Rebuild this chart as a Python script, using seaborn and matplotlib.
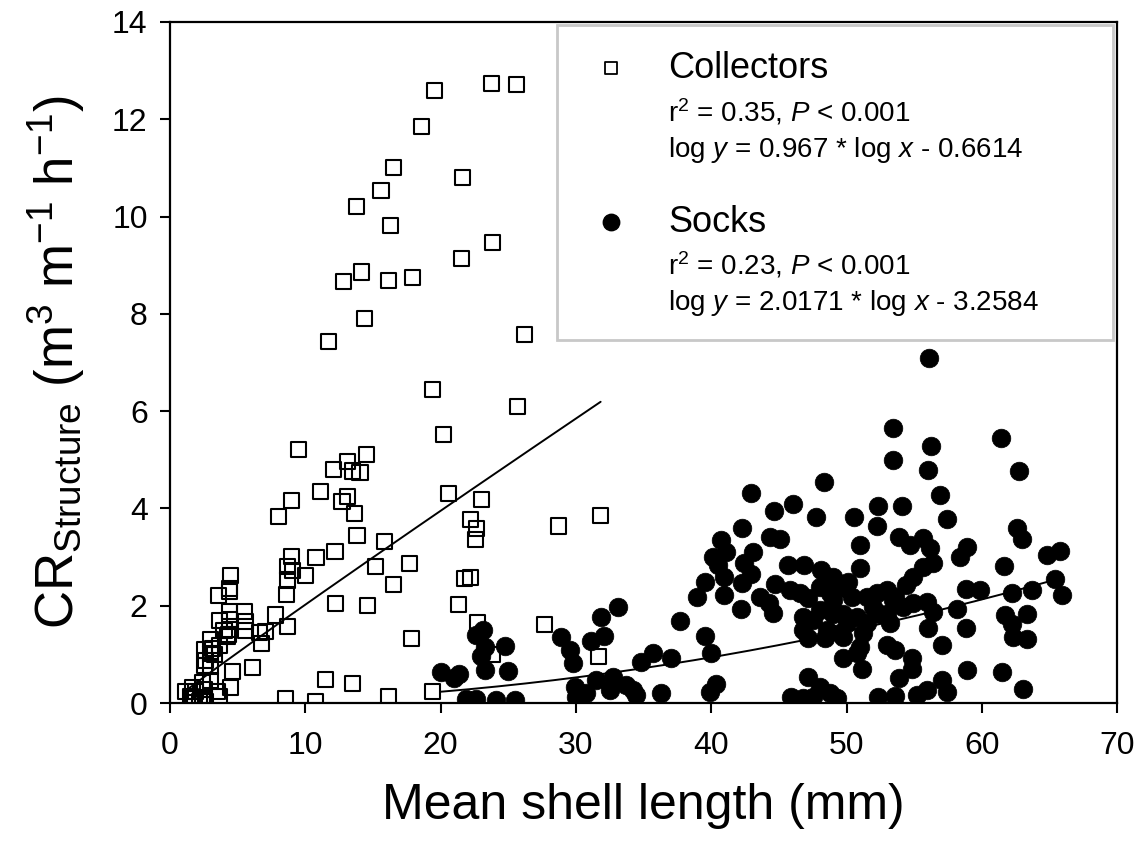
"""Clearance rate vs mean shell length for collectors and socks."""

import numpy as np
import pandas as pd
import matplotlib
matplotlib.use("Agg")
import matplotlib.pyplot as plt
from matplotlib.patches import Rectangle
import seaborn as sns

# Collectors (open squares)
collectors_x = [
    19.55, 23.74, 25.59, 18.57, 16.54, 21.6, 15.6, 13.8, 16.27, 23.82,
    21.52, 14.13, 12.82, 16.17, 17.9, 14.37, 11.73, 26.2, 19.42, 25.71,
    9.51, 12.1, 13.14, 13.5, 14.05, 11.12, 8.99, 8.03, 12.72, 13.14,
    13.63, 13.83, 12.2, 10.8, 9.02, 8.7, 9.07, 8.7, 8.65, 10.0,
    12.23, 4.51, 4.44, 3.57, 4.39, 5.5, 3.65, 4.44, 5.57, 4.39,
    4.33, 5.57, 6.6, 7.1, 7.79, 6.8, 8.7, 3.03, 3.65, 2.54,
    3.28, 2.54, 3.03, 4.63, 6.11, 2.41, 4.51, 1.18, 1.67, 1.67,
    2.41, 3.52, 3.65, 8.53, 10.75, 11.49, 13.5,
    4.39, 4.0, 4.26, 3.15, 3.03, 2.66, 1.92, 1.55, 2.54, 2.41,
    2.66, 2.17, 1.8, 3.03,
    20.24, 14.5, 15.85, 15.18, 17.7, 16.52, 14.62, 17.83, 16.17, 19.42,
    20.58, 23.0, 22.21, 22.63, 22.58, 21.77, 22.21, 21.35, 22.7, 23.82,
    28.74, 31.83, 27.68, 31.7,
]
collectors_y = [
    12.59, 12.74, 12.72, 11.85, 11.01, 10.81, 10.53, 10.2, 9.81, 9.46,
    9.13, 8.86, 8.66, 8.68, 8.75, 7.9, 7.43, 7.57, 6.45, 6.09,
    5.21, 4.80, 4.97, 4.77, 4.73, 4.34, 4.16, 3.84, 4.14, 4.24,
    3.9, 3.45, 3.11, 3.0, 3.01, 2.80, 2.73, 2.53, 2.24, 2.63,
    2.04, 2.63, 2.36, 2.21, 1.88, 1.89, 1.69, 1.72, 1.67, 1.51,
    1.40, 1.50, 1.45, 1.47, 1.81, 1.23, 1.57, 1.30, 1.19, 1.09,
    0.99, 0.78, 0.75, 0.64, 0.73, 0.42, 0.32, 0.23, 0.32, 0.10,
    0.06, 0.23, 0.13, 0.10, 0.04, 0.49, 0.40,
    2.29, 1.50, 1.36, 1.12, 1.02, 0.88, 0.23, 0.13, 0.27, 0.10,
    0.03, 0.03, 0.10, 0.47,
    5.52, 5.1, 3.32, 2.80, 2.87, 2.43, 2.01, 1.33, 0.14, 0.23,
    4.31, 4.19, 3.78, 3.59, 3.37, 2.56, 2.58, 2.03, 1.65, 0.99,
    3.64, 3.85, 1.62, 0.95,
]

# Socks (filled circles)
socks_x = [
    23.12, 22.63, 23.25, 23.0, 23.32, 24.73, 24.97, 20.04, 21.4, 21.03,
    21.89, 22.63, 24.11, 25.47, 28.92, 29.53, 29.78, 31.14, 32.07, 31.88,
    33.11, 29.9, 30.03, 30.77, 31.51, 32.74, 33.73, 34.22, 34.84,
    53.45, 53.45, 48.32, 42.97, 46.01, 44.62, 47.78, 52.34, 50.54, 52.22,
    42.31, 44.33, 45.07, 40.75, 41.12, 43.09, 40.13, 40.5, 42.43, 42.97,
    50.98, 50.98, 45.68, 46.84, 48.15, 49.01, 50.12, 40.92, 39.52, 42.31,
    44.75, 38.98, 40.92, 43.59, 44.28, 44.57, 42.23, 45.81, 46.55, 47.16,
    48.03, 48.76, 49.01, 49.87, 50.37, 51.48, 52.22, 52.96, 53.57, 51.97,
    52.96, 46.79, 47.53, 46.79, 48.03, 49.01, 49.75, 48.52, 50.0, 49.5,
    47.16, 48.39, 49.75, 50.74, 51.23, 51.48, 52.46, 53.2, 50.98, 50.74,
    49.75, 51.11, 52.96, 53.57, 47.16, 48.03, 48.76, 45.93, 46.79, 47.53,
    49.26, 52.34, 53.57, 53.89, 37.67, 39.52, 39.96, 35.7, 37.06, 40.38,
    39.89, 36.32, 34.47, 32.5,
    56.11, 56.21, 56.04, 61.39, 62.77, 56.9, 57.4, 54.1, 53.9, 54.68,
    55.67, 56.16, 56.41, 55.67, 54.93, 54.43, 62.57, 62.94, 58.92, 58.38,
    64.79, 65.78, 61.66, 65.41, 65.9, 58.82, 59.86, 62.2, 63.68, 58.14,
    61.71, 62.2, 62.32, 63.31, 63.31, 58.82, 53.45, 54.19, 54.93, 55.92,
    56.41, 56.04, 57.03, 54.81, 54.81, 58.88, 61.46, 63.06, 57.03, 57.4,
    55.92, 55.18,
]
socks_y = [
    1.51, 1.40, 1.16, 0.97, 0.68, 1.17, 0.66, 0.64, 0.60, 0.51,
    0.08, 0.08, 0.06, 0.06, 1.35, 1.10, 0.82, 1.28, 1.38, 1.77,
    1.97, 0.34, 0.13, 0.20, 0.47, 0.54, 0.37, 0.27, 0.85,
    5.65, 5.0, 4.55, 4.32, 4.09, 3.95, 3.83, 4.05, 3.82, 3.64,
    3.59, 3.42, 3.38, 3.35, 3.11, 3.11, 3.01, 2.84, 2.87, 2.66,
    3.25, 2.77, 2.84, 2.84, 2.73, 2.60, 2.49, 2.60, 2.49, 2.46,
    2.45, 2.19, 2.22, 2.19, 2.06, 1.86, 1.93, 2.32, 2.26, 2.15,
    2.39, 2.26, 2.12, 2.36, 2.19, 2.19, 2.26, 2.32, 2.19, 1.98,
    1.84, 1.77, 1.71, 1.50, 1.91, 1.84, 1.84, 1.50, 1.64, 1.43,
    1.33, 1.33, 1.36, 1.77, 1.43, 1.64, 1.84, 1.64, 1.16, 1.02,
    0.92, 0.69, 1.19, 1.09, 0.54, 0.34, 0.20, 0.13, 0.10, 0.13,
    0.11, 0.13, 0.14, 0.51, 1.69, 1.38, 1.02, 1.02, 0.92, 0.40,
    0.23, 0.20, 0.16, 0.27,
    7.09, 5.28, 4.79, 5.44, 4.76, 4.28, 3.78, 4.05, 3.42, 3.25,
    3.39, 3.18, 2.87, 2.80, 2.60, 2.43, 3.59, 3.37, 3.20, 3.0,
    3.04, 3.13, 2.82, 2.56, 2.22, 2.34, 2.32, 2.27, 2.32, 1.93,
    1.81, 1.62, 1.35, 1.84, 1.31, 1.54, 2.12, 1.98, 2.05, 2.08,
    1.88, 1.54, 1.19, 0.92, 0.71, 0.68, 0.64, 0.28, 0.47, 0.23,
    0.27, 0.16,
]

# log-log regression fits shown in the legend
coll_slope, coll_icpt = 0.967, -0.6614
sock_slope, sock_icpt = 2.0171, -3.2584

sns.set_theme(style="ticks", rc={"text.color": "black", "axes.labelcolor": "black",
                                 "xtick.color": "black", "ytick.color": "black"})
plt.rcParams["font.family"] = ["Liberation Sans", "DejaVu Sans"]
plt.rcParams["mathtext.fontset"] = "custom"
plt.rcParams["mathtext.rm"] = "Liberation Sans"
plt.rcParams["mathtext.it"] = "Liberation Sans:italic"
plt.rcParams["mathtext.bf"] = "Liberation Sans:bold"

coll = pd.DataFrame({"x": collectors_x, "y": collectors_y})
sock = pd.DataFrame({"x": socks_x, "y": socks_y})

fig = plt.figure(figsize=(11.4, 8.44), dpi=100)
ax = fig.add_axes([0.149, 0.167, 0.831, 0.807])

sns.scatterplot(data=coll, x="x", y="y", ax=ax, marker="s", s=118,
                facecolors="none", edgecolor="black", linewidth=1.5, zorder=3)
sns.scatterplot(data=sock, x="x", y="y", ax=ax, marker="o", s=180,
                color="black", edgecolor="black", linewidth=0.5, zorder=4)

# regression lines over the range of each data set
xc = np.linspace(coll["x"].min(), coll["x"].max(), 200)
ax.plot(xc, 10 ** (coll_slope * np.log10(xc) + coll_icpt), color="black", lw=1.4, zorder=5)
xs = np.linspace(sock["x"].min(), sock["x"].max(), 200)
ax.plot(xs, 10 ** (sock_slope * np.log10(xs) + sock_icpt), color="black", lw=1.4, zorder=5)

ax.set_xlim(0, 70)
ax.set_ylim(0, 14)
ax.set_xticks(range(0, 71, 10))
ax.set_yticks(range(0, 15, 2))
for side in ["left", "bottom", "right", "top"]:
    ax.spines[side].set_visible(True)
    ax.spines[side].set_linewidth(1.6)
    ax.spines[side].set_color("black")
ax.tick_params(axis="both", direction="out", length=7, width=1.5,
               labelsize=23, colors="black")
ax.tick_params(axis="x", pad=13)
ax.tick_params(axis="y", pad=9)

ax.set_xlabel("Mean shell length (mm)", fontsize=36, labelpad=16)
ax.set_ylabel(r"CR$_{\mathrm{Structure}}$ (m$^{3}$ m$^{-1}$ h$^{-1}$)", fontsize=38, labelpad=18)

# legend box with fit statistics
ax.add_patch(Rectangle((0.409, 0.533), 0.587, 0.463, transform=ax.transAxes,
                       facecolor="white", edgecolor="#c8c8c8", lw=2, zorder=6))
ax.scatter([0.466], [0.932], transform=ax.transAxes, marker="s", s=75,
           facecolors="none", edgecolors="black", linewidths=1.3, zorder=7)
ax.scatter([0.466], [0.706], transform=ax.transAxes, marker="o", s=140,
           color="black", zorder=7)
ax.text(0.526, 0.932, "Collectors", transform=ax.transAxes, fontsize=26,
        va="center", zorder=7)
ax.text(0.526, 0.868, r"r$^{2}$ = 0.35, $P$ < 0.001", transform=ax.transAxes,
        fontsize=20, va="center", zorder=7)
ax.text(0.526, 0.812, r"log $y$ = 0.967 * log $x$ - 0.6614", transform=ax.transAxes,
        fontsize=20, va="center", zorder=7)
ax.text(0.526, 0.706, "Socks", transform=ax.transAxes, fontsize=26,
        va="center", zorder=7)
ax.text(0.526, 0.643, r"r$^{2}$ = 0.23, $P$ < 0.001", transform=ax.transAxes,
        fontsize=20, va="center", zorder=7)
ax.text(0.526, 0.588, r"log $y$ = 2.0171 * log $x$ - 3.2584", transform=ax.transAxes,
        fontsize=20, va="center", zorder=7)

fig.savefig("out.png", dpi=100)
plt.close(fig)
